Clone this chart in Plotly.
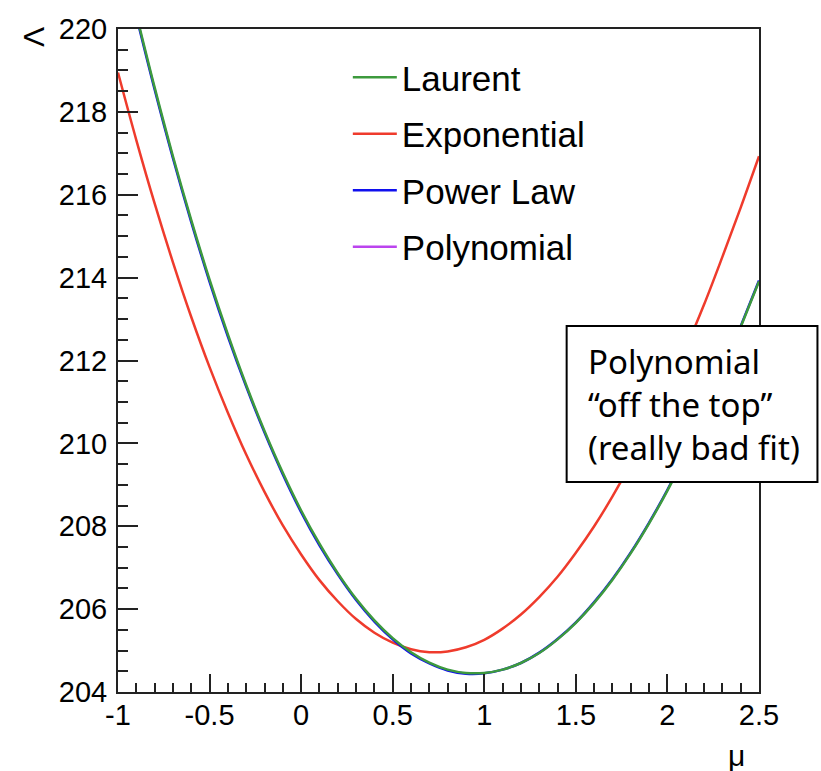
import plotly.graph_objects as go

# Profile of Lambda versus mu for each background fit function
mu_laurent = [-0.9, -0.8, -0.7, -0.6, -0.5, -0.4, -0.3, -0.2, -0.1, 0.0,
              0.1, 0.2, 0.3, 0.4, 0.5, 0.6, 0.7, 0.8, 0.9, 1.0,
              1.1, 1.2, 1.3, 1.4, 1.5, 1.6, 1.7, 1.8, 1.9, 2.0,
              2.1, 2.2, 2.3, 2.4, 2.5]
lam_laurent = [220.36, 218.59, 216.93, 215.39, 213.95, 212.63, 211.41, 210.30, 209.29, 208.38,
               207.58, 206.87, 206.25, 205.73, 205.30, 204.96, 204.71, 204.54, 204.46, 204.46,
               204.54, 204.70, 204.94, 205.27, 205.67, 206.15, 206.71, 207.35, 208.07, 208.86,
               209.74, 210.69, 211.71, 212.81, 213.91]

mu_power = mu_laurent
lam_power = [220.31, 218.54, 216.88, 215.34, 213.90, 212.58, 211.37, 210.26, 209.25, 208.34,
             207.54, 206.84, 206.22, 205.70, 205.27, 204.93, 204.69, 204.52, 204.44, 204.45,
             204.54, 204.70, 204.95, 205.28, 205.68, 206.17, 206.73, 207.37, 208.09, 208.88,
             209.76, 210.71, 211.73, 212.83, 213.93]

mu_expo = [-1.0, -0.9, -0.8, -0.7, -0.6, -0.5, -0.4, -0.3, -0.2, -0.1,
           0.0, 0.1, 0.2, 0.3, 0.4, 0.5, 0.6, 0.7, 0.8, 0.9,
           1.0, 1.1, 1.2, 1.3, 1.4, 1.5, 1.6, 1.7, 1.8, 1.9,
           2.0, 2.1, 2.2, 2.3, 2.4, 2.5]
lam_expo = [218.95, 217.32, 215.79, 214.37, 213.05, 211.84, 210.74, 209.73, 208.83, 208.02,
            207.32, 206.70, 206.19, 205.76, 205.43, 205.19, 205.03, 204.96, 204.98, 205.08,
            205.26, 205.53, 205.87, 206.29, 206.78, 207.36, 208.00, 208.72, 209.51, 210.37,
            211.29, 212.29, 213.35, 214.50, 215.69, 216.93]

# Polynomial fit lies entirely above the displayed range: legend entry only
mu_poly = [None]
lam_poly = [None]

x_range = [-1, 2.5]
y_range = [204, 220]
x_ticks = [-1, -0.5, 0, 0.5, 1, 1.5, 2, 2.5]
x_ticklabels = ["-1", "-0.5", "0", "0.5", "1", "1.5", "2", "2.5"]
y_ticks = [204, 206, 208, 210, 212, 214, 216, 218, 220]
y_ticklabels = [str(v) for v in y_ticks]

GREEN = "#3d9a3d"
RED = "#ef3b2c"
BLUE = "#1010ee"
VIOLET = "#bb44ee"
LABEL_FONT = "Liberation Sans, Arial, sans-serif"

fig = go.Figure()
fig.add_trace(go.Scatter(x=mu_expo, y=lam_expo, mode="lines", name="Exponential",
                         line=dict(color=RED, width=2.5, shape="spline", smoothing=1.0),
                         legendgroup="b", legendrank=2))
fig.add_trace(go.Scatter(x=mu_power, y=lam_power, mode="lines", name="Power Law",
                         line=dict(color=BLUE, width=2.5, shape="spline", smoothing=1.0),
                         legendgroup="c", legendrank=3))
fig.add_trace(go.Scatter(x=mu_laurent, y=lam_laurent, mode="lines", name="Laurent",
                         line=dict(color=GREEN, width=2.5, shape="spline", smoothing=1.0),
                         legendgroup="a", legendrank=1))
fig.add_trace(go.Scatter(x=mu_poly, y=lam_poly, mode="lines", name="Polynomial",
                         line=dict(color=VIOLET, width=2.5),
                         legendgroup="d", legendrank=4))

axis_common = dict(
    showline=True, linecolor="#222222", linewidth=2, mirror=True,
    ticks="inside", tickcolor="#222222", tickwidth=1.5,
    showgrid=False, zeroline=False,
    tickfont=dict(family=LABEL_FONT, size=29, color="black"),
)

fig.update_xaxes(range=x_range, tickvals=x_ticks, ticktext=x_ticklabels, ticklen=18,
                 minor=dict(ticks="inside", dtick=0.1, ticklen=9, tickcolor="#222222", tickwidth=1.5),
                 ticklabelstandoff=-4, **axis_common)
fig.update_yaxes(range=y_range, tickvals=y_ticks, ticktext=y_ticklabels, ticklen=20,
                 minor=dict(ticks="inside", dtick=0.5, ticklen=10, tickcolor="#222222", tickwidth=1.5),
                 ticklabelstandoff=3, **axis_common)

L, R, T, B = 118, 61.5, 29, 79
W, H = 821, 771
pw, ph = W - L - R, H - T - B


def px_x(p):
    return (p - L) / pw


def px_y(p):
    return (H - B - p) / ph


fig.update_layout(
    width=W, height=H,
    margin=dict(l=L, r=R, t=T, b=B, pad=0),
    paper_bgcolor="white", plot_bgcolor="white",
    showlegend=True,
    legend=dict(x=px_x(348), y=px_y(48), xanchor="left", yanchor="top",
                bgcolor="rgba(0,0,0,0)", borderwidth=0,
                font=dict(family=LABEL_FONT, size=35, color="black"),
                tracegroupgap=8, itemwidth=44),
    shapes=[dict(type="rect", xref="paper", yref="paper",
                 x0=px_x(567), x1=px_x(818), y0=px_y(482), y1=px_y(326),
                 line=dict(color="black", width=2), fillcolor="white", layer="above")],
    annotations=[
        dict(text="Polynomial<br>\u201coff the top\u201d<br>(really bad fit)",
             xref="paper", yref="paper", x=px_x(586), y=px_y(404),
             xanchor="left", yanchor="middle", align="left", showarrow=False,
             font=dict(family="Noto Sans, Open Sans, sans-serif", size=33, color="black")),
        dict(text="\u039b", xref="paper", yref="paper", x=px_x(34), y=px_y(37),
             xanchor="center", yanchor="middle", textangle=-90, showarrow=False,
             font=dict(family=LABEL_FONT, size=30, color="black")),
        dict(text="\u03bc", xref="paper", yref="paper", x=px_x(737), y=px_y(755),
             xanchor="center", yanchor="middle", showarrow=False,
             font=dict(family=LABEL_FONT, size=30, color="black")),
    ],
)

fig.write_html("out.html")
